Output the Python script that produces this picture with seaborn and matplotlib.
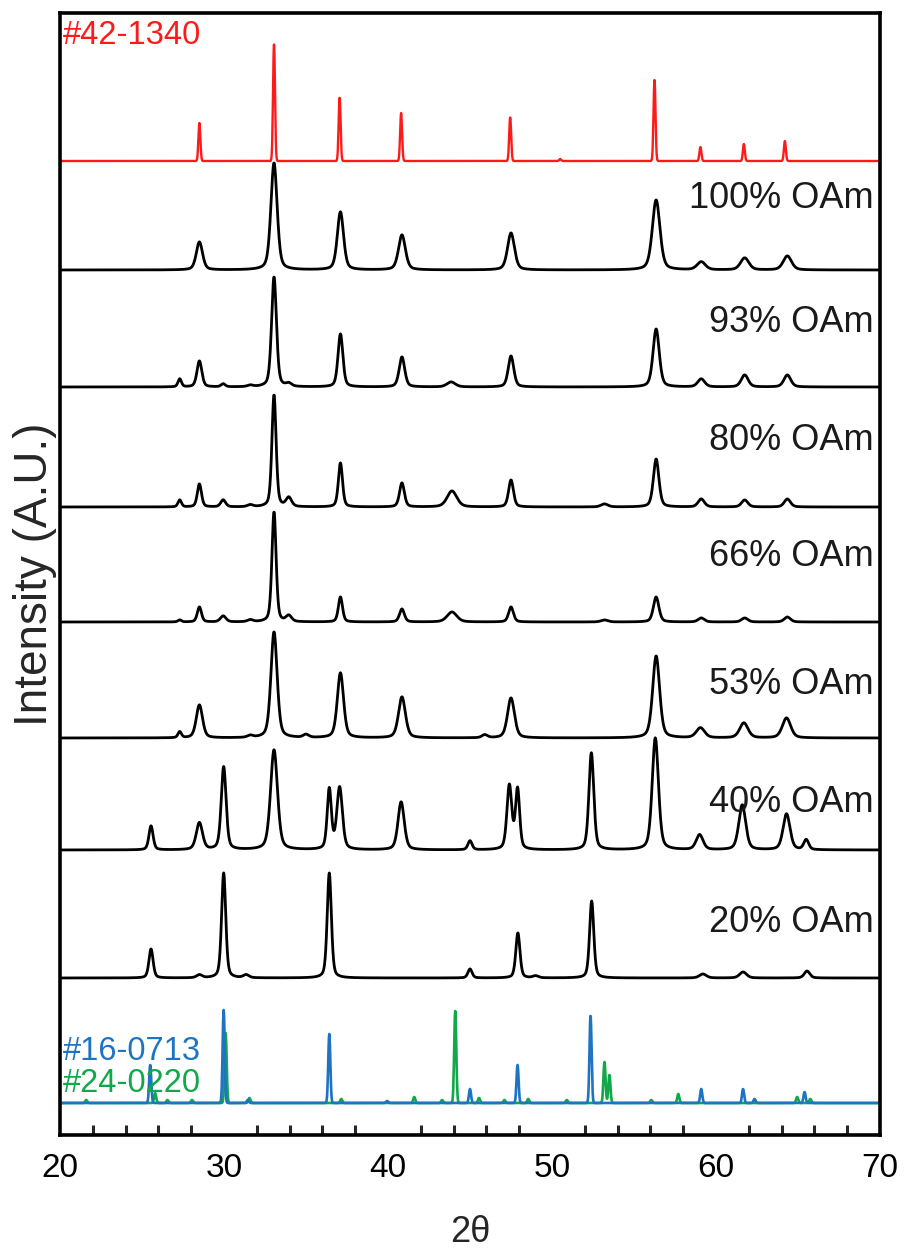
import numpy as np
import pandas as pd
import matplotlib
matplotlib.use("Agg")
import matplotlib.pyplot as plt
from matplotlib.ticker import MultipleLocator
import seaborn as sns

# ---------------- data ----------------
x_min, x_max = 20, 70

# reference pattern #42-1340 (red)
ref42_pos = [28.5, 33.05, 37.05, 40.8, 47.45, 50.5, 56.25, 59.05, 61.7, 64.2]
ref42_int = [38, 118, 64, 48, 44, 2, 82, 14, 17, 20]

# reference pattern #16-0713 (blue)
ref16_pos = [25.5, 29.98, 31.45, 36.42, 39.95, 45.0, 47.9, 52.35, 59.1, 61.65, 62.35, 65.4]
ref16_int = [38, 93, 3, 69, 2, 14, 38, 88, 14, 14, 4, 11]

# reference pattern #24-0220 (green)
ref24_pos = [21.6, 25.8, 26.55, 28.05, 30.1, 31.55, 37.15, 41.6, 43.3, 44.1, 45.55,
             47.1, 48.55, 50.9, 53.2, 53.5, 56.05, 57.7, 64.95, 65.75]
ref24_int = [3, 10, 3, 3, 70, 5, 4, 6, 3, 92, 5, 3, 4, 3, 41, 28, 3, 9, 6, 4]

sample_labels = ["100% OAm", "93% OAm", "80% OAm", "66% OAm", "53% OAm", "40% OAm", "20% OAm"]

oam100_pos = [28.5, 33.05, 37.1, 40.85, 47.5, 56.35, 59.1, 61.75, 64.35]
oam100_int = [28, 107, 58, 35, 37, 70, 8, 12, 14]
oam100_wid = [0.45, 0.45, 0.45, 0.5, 0.5, 0.55, 0.6, 0.6, 0.6]

oam93_pos = [27.3, 28.5, 29.95, 31.6, 33.05, 33.95, 37.1, 40.85, 43.85, 47.5, 56.35, 59.1, 61.75, 64.35]
oam93_int = [8, 26, 3, 1.5, 110, 3, 53, 30, 5, 31, 58, 8, 12, 12]
oam93_wid = [0.25, 0.35, 0.3, 0.4, 0.35, 0.4, 0.35, 0.4, 0.6, 0.4, 0.45, 0.5, 0.5, 0.5]

oam80_pos = [27.3, 28.5, 29.95, 31.6, 33.05, 33.95, 37.1, 40.85, 43.9, 47.5, 53.2, 56.35, 59.1, 61.75, 64.35]
oam80_int = [7, 23, 7, 2, 112, 9, 44, 24, 16, 27, 3, 48, 8, 7, 8]
oam80_wid = [0.25, 0.3, 0.35, 0.4, 0.3, 0.4, 0.3, 0.35, 0.7, 0.35, 0.5, 0.4, 0.45, 0.45, 0.45]

oam66_pos = [27.3, 28.5, 29.95, 31.6, 33.05, 33.95, 37.1, 40.85, 43.9, 47.5, 53.2, 56.35, 59.1, 61.75, 64.35]
oam66_int = [2, 15, 6, 2, 110, 6, 25, 13, 10, 15, 2, 25, 4, 4, 5]
oam66_wid = [0.25, 0.3, 0.4, 0.4, 0.3, 0.4, 0.3, 0.35, 0.7, 0.35, 0.5, 0.4, 0.45, 0.45, 0.45]

oam53_pos = [27.3, 28.5, 31.6, 33.05, 35.0, 37.1, 40.85, 45.9, 47.5, 56.35, 59.05, 61.7, 64.3]
oam53_int = [6, 33, 2, 106, 3, 65, 41, 3, 40, 82, 10, 15, 20]
oam53_wid = [0.25, 0.45, 0.4, 0.45, 0.4, 0.45, 0.5, 0.4, 0.5, 0.5, 0.6, 0.6, 0.6]

oam40_pos = [25.55, 28.5, 29.98, 33.05, 36.42, 37.05, 40.8, 45.0, 47.4, 47.9, 52.4, 56.3, 59.0, 61.6, 64.3, 65.5]
oam40_int = [24, 27, 83, 100, 60, 62, 48, 9, 64, 60, 97, 112, 15, 45, 36, 10]
oam40_wid = [0.3, 0.45, 0.35, 0.5, 0.3, 0.4, 0.45, 0.3, 0.35, 0.3, 0.35, 0.45, 0.5, 0.5, 0.5, 0.35]

oam20_pos = [25.55, 28.5, 29.98, 31.35, 36.42, 45.0, 47.92, 49.0, 52.42, 59.2, 61.65, 65.55]
oam20_int = [29, 3, 105, 3, 105, 9, 45, 2, 77, 4, 6, 7]
oam20_wid = [0.3, 0.4, 0.3, 0.4, 0.3, 0.3, 0.3, 0.4, 0.3, 0.5, 0.5, 0.4]

# baselines (stack offsets) of each pattern
ref42_offset = 974
sample_offsets = [865, 748, 628, 513, 397, 285, 157]
ref_bottom_offset = 32
label_y = [937, 813, 695, 579, 451, 333, 213]

# ---------------- build the curves ----------------
tt = np.linspace(x_min, x_max, 2501)


def profile(pos, inten, wid):
    y = np.zeros_like(tt)
    for p, h, w in zip(pos, inten, wid):
        g = np.exp(-4 * np.log(2) * ((tt - p) / w) ** 2)
        lz = 1.0 / (1.0 + 4 * ((tt - p) / w) ** 2)
        y += h * (0.6 * g + 0.4 * lz)
    return y


def stick(pos, inten, w=0.13):
    y = np.zeros_like(tt)
    for p, h in zip(pos, inten):
        y += h * np.exp(-4 * np.log(2) * ((tt - p) / w) ** 2)
    return y


samples = [
    (oam100_pos, oam100_int, oam100_wid),
    (oam93_pos, oam93_int, oam93_wid),
    (oam80_pos, oam80_int, oam80_wid),
    (oam66_pos, oam66_int, oam66_wid),
    (oam53_pos, oam53_int, oam53_wid),
    (oam40_pos, oam40_int, oam40_wid),
    (oam20_pos, oam20_int, oam20_wid),
]

frames = []
for lab, (p, i, w), off in zip(sample_labels, samples, sample_offsets):
    frames.append(pd.DataFrame({"two_theta": tt, "I": profile(p, i, w) + off, "pattern": lab}))
df_samples = pd.concat(frames, ignore_index=True)

df42 = pd.DataFrame({"two_theta": tt, "I": stick(ref42_pos, ref42_int, 0.14) + ref42_offset})
df24 = pd.DataFrame({"two_theta": tt, "I": stick(ref24_pos, ref24_int, 0.15) + ref_bottom_offset})
df16 = pd.DataFrame({"two_theta": tt, "I": stick(ref16_pos, ref16_int, 0.15) + ref_bottom_offset})

# ---------------- plot ----------------
sns.set_style("white")
plt.rcParams['font.family'] = ['Liberation Sans', 'DejaVu Sans']

fig = plt.figure(figsize=(9.05, 12.53), dpi=100)
ax = fig.add_axes([60 / 905, 1 - 1135 / 1253, 820 / 905, 1122 / 1253])

red = "#ff1a1a"
blue = "#1f74c2"
green = "#10a84a"

sns.lineplot(data=df42, x="two_theta", y="I", ax=ax, color=red, lw=1.7, estimator=None, sort=False)
for lab in sample_labels:
    sns.lineplot(data=df_samples[df_samples["pattern"] == lab], x="two_theta", y="I", ax=ax,
                 color="black", lw=2.0, estimator=None, sort=False)
sns.lineplot(data=df24, x="two_theta", y="I", ax=ax, color=green, lw=1.9, estimator=None, sort=False)
sns.lineplot(data=df16, x="two_theta", y="I", ax=ax, color=blue, lw=1.9, estimator=None, sort=False)

for lab, ly in zip(sample_labels, label_y):
    ax.text(69.6, ly, lab, ha="right", va="center", fontsize=26, color="#1a1a1a")

ax.text(20.15, 1100, "#42-1340", ha="left", va="center", fontsize=23.5, color=red)
ax.text(20.15, 83, "#16-0713", ha="left", va="center", fontsize=23.5, color=blue)
ax.text(20.15, 52, "#24-0220", ha="left", va="center", fontsize=23.5, color=green)

ax.set_xlim(x_min, x_max)
ax.set_ylim(0, 1122)
ax.xaxis.set_major_locator(MultipleLocator(10))
ax.xaxis.set_minor_locator(MultipleLocator(2))
ax.set_yticks([])
ax.tick_params(axis="x", which="major", direction="inout", length=18, width=2.5,
               labelsize=24, pad=4, colors="black")
ax.tick_params(axis="x", which="minor", direction="in", length=7, width=2.2, bottom=True)
for s in ax.spines.values():
    s.set_visible(True)
    s.set_linewidth(2.6)
    s.set_color("black")

ax.set_xlabel("2θ", fontsize=26, labelpad=22)
ax.set_ylabel("Intensity (A.U.)", fontsize=33, labelpad=2)

fig.savefig("out.png", dpi=100)
